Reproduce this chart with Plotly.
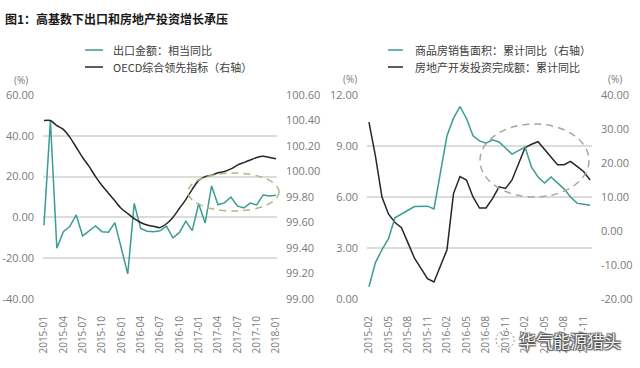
import plotly.graph_objects as go

W, H = 640, 368

# ---------------- data ----------------
months_left = [f"{y}-{m:02d}" for y in (2015, 2016, 2017) for m in range(1, 13)] + ["2018-01"]
export_yoy = [-3.9, 47.4, -15.1, -7.0, -4.5, 1.2, -9.1, -6.5, -4.2, -7.0, -7.3, -2.6,
              -15.5, -27.7, 6.9, -5.4, -6.8, -7.0, -6.6, -4.3, -10.0, -7.5, -1.8, -6.5,
              6.7, -2.8, 15.4, 6.2, 7.1, 10.0, 5.6, 4.6, 7.0, 6.1, 11.0, 10.5,
              10.9]
oecd_cli = [100.40, 100.40, 100.36, 100.33, 100.27, 100.19, 100.11, 100.04, 99.96, 99.89, 99.83, 99.77,
            99.71, 99.67, 99.63, 99.60, 99.58, 99.57, 99.56, 99.59, 99.64, 99.71, 99.78, 99.86,
            99.93, 99.96, 99.97, 99.99, 100.00, 100.02, 100.05, 100.07, 100.09, 100.11, 100.12, 100.11,
            100.10]
left_xticks = months_left[::3]
left_y_vals = [-40, -20, 0, 20, 40, 60]
left_y_text = ["-40.00", "-20.00", "0.00", "20.00", "40.00", "60.00"]
left_y2_vals = [99.0, 99.2, 99.4, 99.6, 99.8, 100.0, 100.2, 100.4, 100.6]
left_y2_text = ["99.00", "99.20", "99.40", "99.60", "99.80", "100.00", "100.20", "100.40", "100.60"]

months_right = [f"{y}-{m:02d}" for y in (2015, 2016, 2017) for m in range(1, 13)][1:]
sales_yoy = [-16.4, -9.3, -5.5, -2.3, 3.9, 5.1, 6.1, 7.2, 7.2, 7.3, 6.5,
             None, 28.0, 33.2, 36.6, 33.1, 28.0, 26.5, 25.8, 26.8, 26.2, 24.4, 22.6,
             None, 24.7, 18.8, 15.9, 14.1, 15.9, 14.1, 12.4, 10.0, 8.2, 7.9, 7.6]
invest_yoy = [10.4, 8.4, 6.0, 5.0, 4.5, 4.2, 3.3, 2.4, 1.8, 1.2, 1.0,
              None, 2.9, 6.2, 7.2, 7.0, 6.0, 5.35, 5.35, 5.9, 6.6, 6.5, 7.0,
              None, 8.9, 9.1, 9.25, 8.8, 8.4, 7.9, 7.9, 8.1, 7.8, 7.5, 7.0]
right_xticks = months_right[::3]
right_y_vals = [0, 3, 6, 9, 12]
right_y_text = ["0.00", "3.00", "6.00", "9.00", "12.00"]
right_y2_vals = [-20, -10, 0, 10, 20, 30, 40]
right_y2_text = ["-20.00", "-10.00", "0.00", "10.00", "20.00", "30.00", "40.00"]

title_text = "图1：高基数下出口和房地产投资增长承压"
legend_left = ["出口金额：相当同比", "OECD综合领先指标（右轴）"]
legend_right = ["商品房销售面积：累计同比（右轴）", "房地产开发投资完成额：累计同比"]
watermark = "华气能源猎头"

# ---------------- style ----------------
TEAL = "#3b9c93"
BLACK = "#262626"
GRID = "#dcdcdc"
TICK = "#7a7a7a"
FONT = "Open Sans, Noto Sans CJK SC, sans-serif"
CJK = "Noto Sans CJK SC, sans-serif"


def px(x):
    return x / W


def py(y):
    return 1 - y / H


ydom = [py(299), py(95)]

fig = go.Figure()
fig.add_trace(go.Scatter(x=months_left, y=export_yoy, xaxis="x", yaxis="y", mode="lines",
                         line=dict(color=TEAL, width=1.5), showlegend=False))
fig.add_trace(go.Scatter(x=months_left, y=oecd_cli, xaxis="x", yaxis="y2", mode="lines",
                         line=dict(color=BLACK, width=1.5, shape="spline", smoothing=0.8),
                         showlegend=False))
fig.add_trace(go.Scatter(x=months_right, y=sales_yoy, xaxis="x2", yaxis="y4", mode="lines",
                         connectgaps=True, line=dict(color=TEAL, width=1.5), showlegend=False))
fig.add_trace(go.Scatter(x=months_right, y=invest_yoy, xaxis="x2", yaxis="y3", mode="lines",
                         connectgaps=True, line=dict(color=BLACK, width=1.5), showlegend=False))

xcommon = dict(type="category", tickangle=-90, tickfont=dict(size=10, color=TICK, family=FONT),
               showgrid=False, showline=False, zeroline=False, ticks="", automargin=False,
               ticklabelstandoff=14)
ycommon = dict(tickfont=dict(size=11, color=TICK, family=FONT), showline=False, zeroline=False,
               ticks="", automargin=False, ticklabelstandoff=8)

fig.update_layout(
    width=W, height=H, margin=dict(l=0, r=0, t=0, b=0),
    paper_bgcolor="white", plot_bgcolor="white", showlegend=False,
    font=dict(family=FONT),
    xaxis=dict(domain=[px(43), px(277)], anchor="y", categoryorder="array",
               categoryarray=months_left, range=[-0.15, 36.15], tickvals=left_xticks, **xcommon),
    yaxis=dict(domain=ydom, anchor="x", range=[-40, 60], tickvals=left_y_vals, ticktext=left_y_text,
               showgrid=True, gridcolor=GRID, gridwidth=1.5, **ycommon),
    yaxis2=dict(overlaying="y", side="right", anchor="x", range=[99.0, 100.6], tickvals=left_y2_vals,
                ticktext=left_y2_text, showgrid=False, **ycommon),
    xaxis2=dict(domain=[px(367), px(592)], anchor="y3", categoryorder="array",
                categoryarray=months_right, range=[-0.3, 34.3], tickvals=right_xticks, **xcommon),
    yaxis3=dict(domain=ydom, anchor="x2", range=[0, 12], tickvals=right_y_vals, ticktext=right_y_text,
                showgrid=True, gridcolor=GRID, gridwidth=1.5, **ycommon),
    yaxis4=dict(overlaying="y3", side="right", anchor="x2", range=[-20, 40], tickvals=right_y2_vals,
                ticktext=right_y2_text, showgrid=False, **ycommon),
)

ann = []
ann.append(dict(text=f"<b>{title_text}</b>", x=px(3), y=py(18), xanchor="left", yanchor="middle",
                font=dict(size=12, color="#1a1a1a", family=CJK)))
for t, xx, yy in [("(%)", 21, 80), ("(%)", 350, 79), ("(%)", 615, 79)]:
    ann.append(dict(text=t, x=px(xx), y=py(yy), xanchor="center", yanchor="middle",
                    font=dict(size=10, color=TICK, family=FONT)))

shapes = []
# legends
for (labels, lx0, lx1, tx) in [(legend_left, 85, 103, 111), (legend_right, 388, 403, 413)]:
    for i, (lab, col) in enumerate(zip(labels, [TEAL, BLACK])):
        yy = 50 + 17 * i
        shapes.append(dict(type="line", xref="paper", yref="paper", x0=px(lx0), x1=px(lx1),
                           y0=py(yy), y1=py(yy), line=dict(color=col, width=1.5)))
        ann.append(dict(text=lab, x=px(tx), y=py(yy), xanchor="left", yanchor="middle",
                        font=dict(size=11, color="#404040", family=CJK)))

# dashed highlight ellipses
shapes.append(dict(type="circle", xref="paper", yref="paper", x0=px(188), x1=px(279),
                   y0=py(211), y1=py(173), line=dict(color="#a9b98a", width=1.5, dash="7px,5px")))
shapes.append(dict(type="circle", xref="paper", yref="paper", x0=px(480), x1=px(589),
                   y0=py(197), y1=py(124), line=dict(color="#aaa79a", width=1.5, dash="7px,5px")))

# watermark
shapes.append(dict(type="circle", xref="paper", yref="paper", x0=px(496), x1=px(514),
                   y0=py(349), y1=py(331), line=dict(color="#9a9a9a", width=1, dash="2px,2px")))
ann.append(dict(text=watermark, x=px(570), y=py(340), xanchor="center", yanchor="middle",
                font=dict(size=17, color="#f2f2f2", family=CJK,
                          shadow="1px 1px 1px #555, -1px -1px 1px #555, 1px -1px 1px #555, -1px 1px 1px #555")))

for a in ann:
    a.update(xref="paper", yref="paper", showarrow=False)
fig.update_layout(annotations=ann, shapes=shapes)

fig.write_html("out.html", config={"displayModeBar": False},
               post_script="document.body.style.margin='0';document.body.style.padding='0';"
                           "document.body.style.overflow='hidden';")
